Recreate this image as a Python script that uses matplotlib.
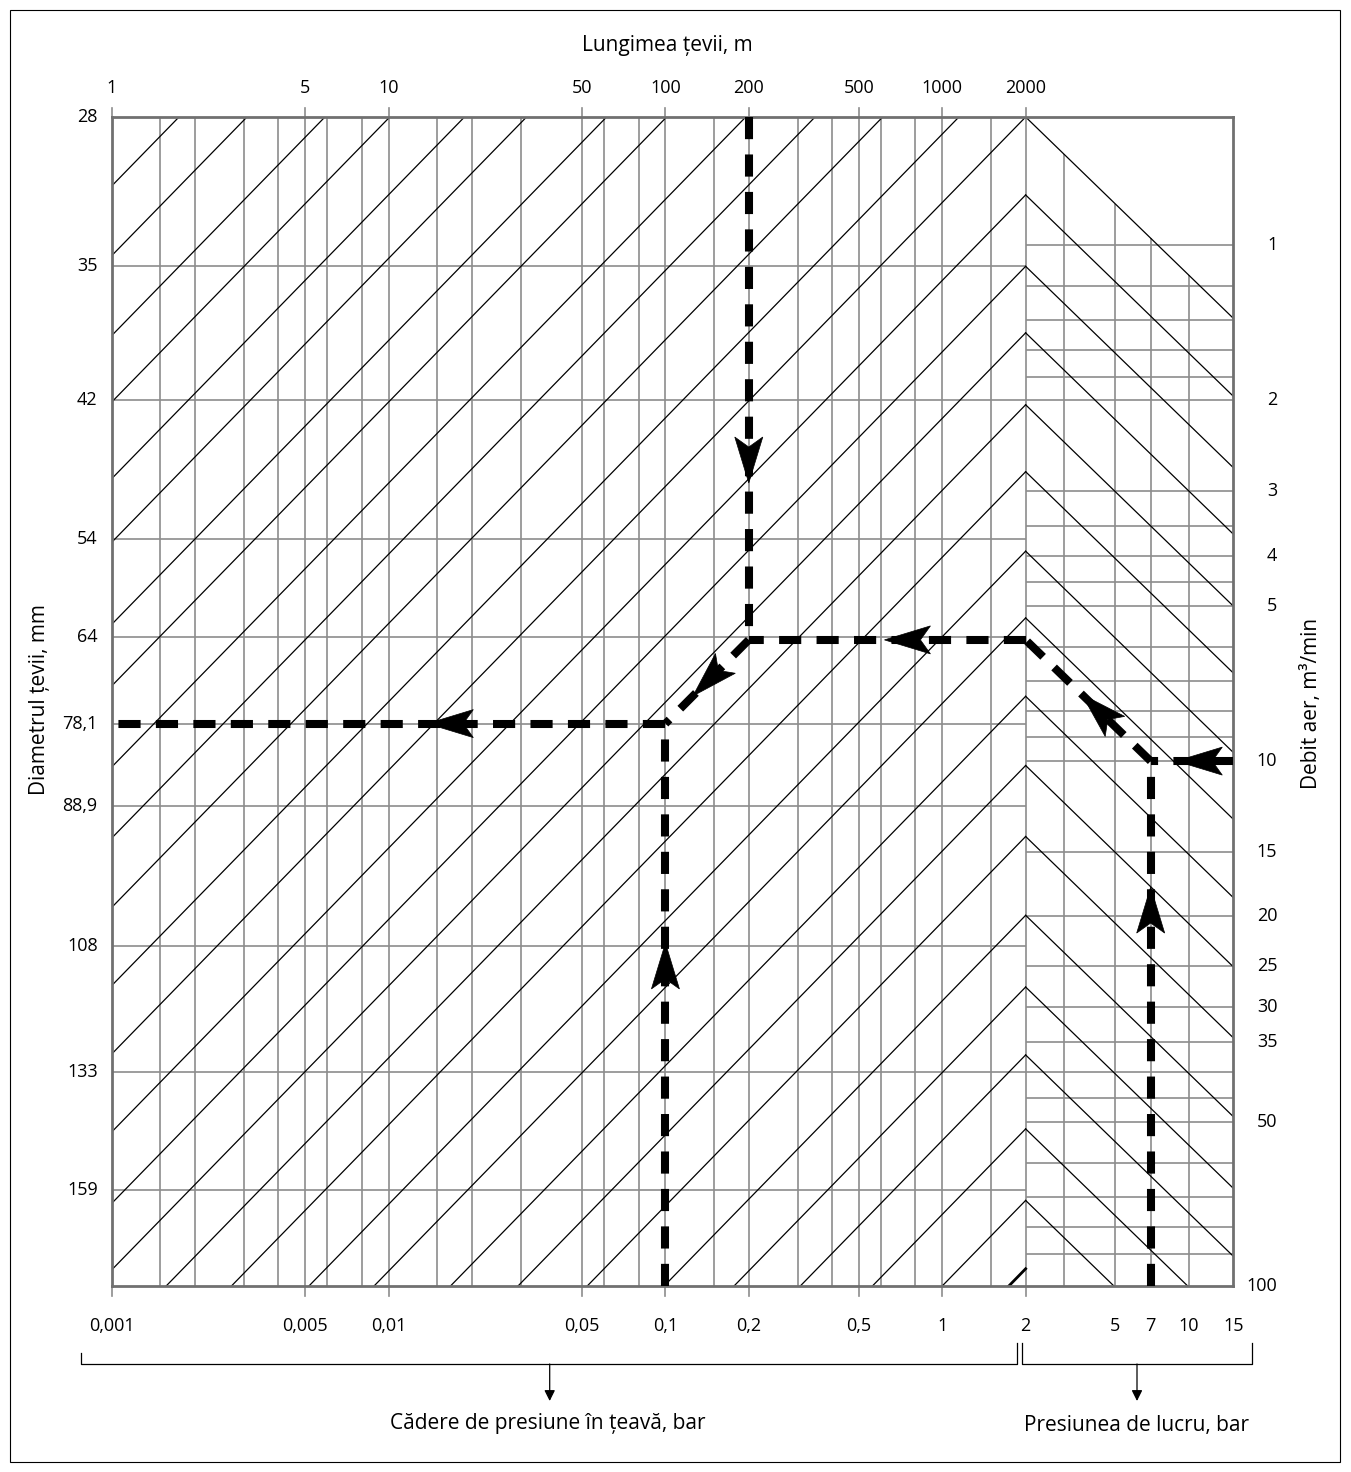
import numpy as np
import matplotlib
matplotlib.use("Agg")
import matplotlib.pyplot as plt
import matplotlib.transforms as mtransforms
from matplotlib.patches import Polygon, Rectangle

plt.rcParams["font.family"] = ["Open Sans", "DejaVu Sans"]
plt.rcParams["font.size"] = 13
TITLE_SIZE = 15

# ---- scales ----
LENGTH_MAX = 2000            # end of the length / pressure-drop scale
FLOW_MIN, FLOW_MAX = 0.565, 104.0
PRESSURE_SPAN = 0.75         # width of the working-pressure panel, in length decades
LEFT_EXP = 0.55              # slope of the diagonals (log flow per log length)
RIGHT_EXP = 0.52             # slope of the chevron branches

length_grid = [1.5, 2, 3, 4, 5, 6, 8, 10, 15, 20, 30, 50, 60, 80, 100, 150,
               200, 300, 400, 500, 600, 800, 1000, 1500, 2000]
length_ticks = [1, 5, 10, 50, 100, 200, 500, 1000, 2000]
length_labels = ["1", "5", "10", "50", "100", "200", "500", "1000", "2000"]

drop_values = [0.001, 0.005, 0.01, 0.05, 0.1, 0.2, 0.5, 1]
drop_labels = ["0,001", "0,005", "0,01", "0,05", "0,1", "0,2", "0,5", "1"]

pressure_grid = [3, 5, 7, 10]
pressure_ticks = [2, 5, 7, 10, 15]
pressure_labels = ["2", "5", "7", "10", "15"]

flow_grid = [1, 1.2, 1.4, 1.6, 1.8, 2, 3, 3.5, 4, 4.5, 5, 6, 7, 8, 9, 10, 15,
             20, 25, 30, 35, 40, 45, 50, 60, 70, 80, 90]
flow_ticks = [1, 2, 3, 4, 5, 10, 15, 20, 25, 30, 35, 50, 100]

diam_labels = ["28", "35", "42", "54", "64", "78,1", "88,9", "108", "133", "159"]
diam_level = [0.565, 1.10, 2.0, 3.71, 5.76, 8.46, 12.24, 22.8, 40, 67.7]

# diagonals: where they meet the top edge (length) / the 2000 m line (flow)
diag_top_length = [1.75, 3.08, 5.89, 10.1, 18.8, 31.5, 61.3, 101, 195, 347, 609, 1148]
apex_flow = [0.565, 0.80, 1.10, 1.48, 2.04, 2.75, 3.92, 5.28, 7.49, 10.2, 14.0,
             19.9, 27.4, 37.1, 51.6, 71.0, 96.3]

# worked example drawn with the dashed path
ex_pressure = 7
ex_flow = 10
ex_length = 200
ex_diam = 8.46      # level of the 78,1 mm line
ex_drop = 0.1

GRID = "#8c8c8c"
W, H = 1351, 1472

X_RIGHT = LENGTH_MAX * 10 ** PRESSURE_SPAN
K_P = PRESSURE_SPAN / np.log10((pressure_ticks[-1] + 0.5) / (pressure_ticks[0] + 0.5))


def x_of_p(p):
    return LENGTH_MAX * ((np.asarray(p, float) + 0.5) / (pressure_ticks[0] + 0.5)) ** K_P


fig = plt.figure(figsize=(W / 100, H / 100), dpi=100)
ax = fig.add_axes([111.7 / W, 1 - 1286 / H, 1121.6 / W, 1169 / H])
ax.set_xscale("log")
ax.set_yscale("log")
ax.set_xlim(1, X_RIGHT)
ax.set_ylim(FLOW_MAX, FLOW_MIN)
ax.set_xticks([]); ax.set_xticks([], minor=True)
ax.set_yticks([]); ax.set_yticks([], minor=True)
for s in ax.spines.values():
    s.set_color("#707070")
    s.set_linewidth(2.0)
    s.set_zorder(4)

# grid: length verticals, diameter horizontals (left), flow/pressure grid (right)
ax.vlines(length_grid, FLOW_MIN, FLOW_MAX, color=GRID, lw=1.2, zorder=1)
ax.hlines(diam_level[1:], 1, LENGTH_MAX, color=GRID, lw=1.2, zorder=1)
ax.hlines(flow_grid, LENGTH_MAX, X_RIGHT, color=GRID, lw=1.2, zorder=1)
for p in pressure_grid:
    xp = x_of_p(p)
    y0 = apex_flow[0] * (xp / LENGTH_MAX) ** RIGHT_EXP
    ax.vlines(xp, y0, FLOW_MAX, color=GRID, lw=1.2, zorder=1)

# diagonals
for lt in diag_top_length:
    ax.plot([1, lt], [FLOW_MIN * lt ** LEFT_EXP, FLOW_MIN], color="black", lw=0.9, zorder=2)
for i, qa in enumerate(apex_flow):
    last = i == len(apex_flow) - 1
    ax.plot([1, LENGTH_MAX], [qa * LENGTH_MAX ** LEFT_EXP, qa], color="black",
            lw=2.0 if last else 0.9, zorder=2)
    if not last:
        ax.plot([LENGTH_MAX, X_RIGHT], [qa, qa * (X_RIGHT / LENGTH_MAX) ** RIGHT_EXP],
                color="black", lw=0.9, zorder=2)

# ticks outside the frame
top_tr = mtransforms.blended_transform_factory(ax.transData, ax.transAxes)
for L, lab in zip(length_ticks, length_labels):
    ax.plot([L, L], [1, 1 + 9 / 1169], transform=top_tr, color=GRID, lw=1.2, clip_on=False)
    ax.text(L, 1 + 29 / 1169, lab, transform=top_tr, ha="center", va="center")
bottom_x = [d * 1000 for d in drop_values] + [LENGTH_MAX]
for L in bottom_x:
    ax.plot([L, L], [0, -10 / 1169], transform=top_tr, color=GRID, lw=1.2, clip_on=False)
for d, lab in zip(drop_values, drop_labels):
    ax.text(d * 1000, -40 / 1169, lab, transform=top_tr, ha="center", va="center")
for p, lab in zip(pressure_ticks, pressure_labels):
    ax.text(x_of_p(p), -40 / 1169, lab, transform=top_tr, ha="center", va="center")

side_tr = mtransforms.blended_transform_factory(ax.transAxes, ax.transData)
for q, lab in zip(diam_level, diam_labels):
    ax.text(-14 / 1121.6, q, lab, transform=side_tr, ha="right", va="center")
for q in flow_ticks:
    # the last label sits on the bottom edge of the frame
    ax.text(1 + 44 / 1121.6, q if q < flow_ticks[-1] else FLOW_MAX, str(q),
            transform=side_tr, ha="right", va="center")

# worked example path
xp7 = x_of_p(ex_pressure)
q_apex = ex_flow / (xp7 / LENGTH_MAX) ** RIGHT_EXP
L_drop = ex_drop * 1000
segments = [
    ((ex_length, FLOW_MIN), (ex_length, q_apex), 0.70),
    ((LENGTH_MAX, q_apex), (ex_length, q_apex), 0.51),
    ((xp7, ex_flow), (LENGTH_MAX, q_apex), 0.55),
    ((X_RIGHT, ex_flow), (xp7, ex_flow), 0.69),
    ((xp7, FLOW_MAX), (xp7, ex_flow), 0.76),
    ((ex_length, q_apex), (L_drop, ex_diam), 0.67),
    ((L_drop, ex_diam), (1, ex_diam), 0.43),
    ((L_drop, FLOW_MAX), (L_drop, ex_diam), 0.61),
]


def arrow_head(p0, p1, frac, length=46, half=14, notch=10):
    a = ax.transData.transform(p0)
    b = ax.transData.transform(p1)
    d = b - a
    u = d / np.hypot(*d)
    n = np.array([-u[1], u[0]])
    tip = a + d * frac
    back = tip - u * length
    pts = np.array([tip, back + n * half, tip - u * (length - notch), back - n * half])
    ax.add_patch(Polygon(ax.transData.inverted().transform(pts), closed=True,
                         facecolor="black", edgecolor="black", lw=0.5, zorder=6))


for p0, p1, f in segments:
    ax.plot([p0[0], p1[0]], [p0[1], p1[1]], color="black", lw=5.8,
            linestyle=(0, (2.75, 1.9)), zorder=5, clip_on=False)
    arrow_head(p0, p1, f)

# annotation layer in pixel coordinates
ov = fig.add_axes([0, 0, 1, 1], facecolor="none")
ov.set_xlim(0, W)
ov.set_ylim(H, 0)
ov.axis("off")
ov.add_patch(Rectangle((10, 10), 1330, 1452, fill=False, edgecolor="black", lw=0.8))

ov.text(667, 45, "Lungimea țevii, m", ha="center", va="center", fontsize=TITLE_SIZE)
ov.text(40, 700, "Diametrul țevii, mm", ha="center", va="center", rotation=90,
        fontsize=TITLE_SIZE)
ov.text(1311, 703, "Debit aer, m³/min", ha="center", va="center", rotation=90,
        fontsize=TITLE_SIZE)

bk = dict(color="black", lw=0.9)
ov.plot([81, 81, 1016.5, 1016.5], [1353, 1364, 1364, 1343], **bk)
ov.plot([1022, 1022, 1252, 1252], [1343, 1364, 1364, 1343], **bk)
for xa in (549.7, 1137):
    ov.annotate("", xy=(xa, 1401), xytext=(xa, 1364),
                arrowprops=dict(arrowstyle="-|>", color="black", lw=0.9,
                                mutation_scale=16, shrinkA=0, shrinkB=0))
ov.text(548, 1423, "Cădere de presiune în țeavă, bar", ha="center", va="center",
        fontsize=TITLE_SIZE)
ov.text(1137, 1425, "Presiunea de lucru, bar", ha="center", va="center",
        fontsize=TITLE_SIZE)

fig.savefig("out.png", dpi=100)
